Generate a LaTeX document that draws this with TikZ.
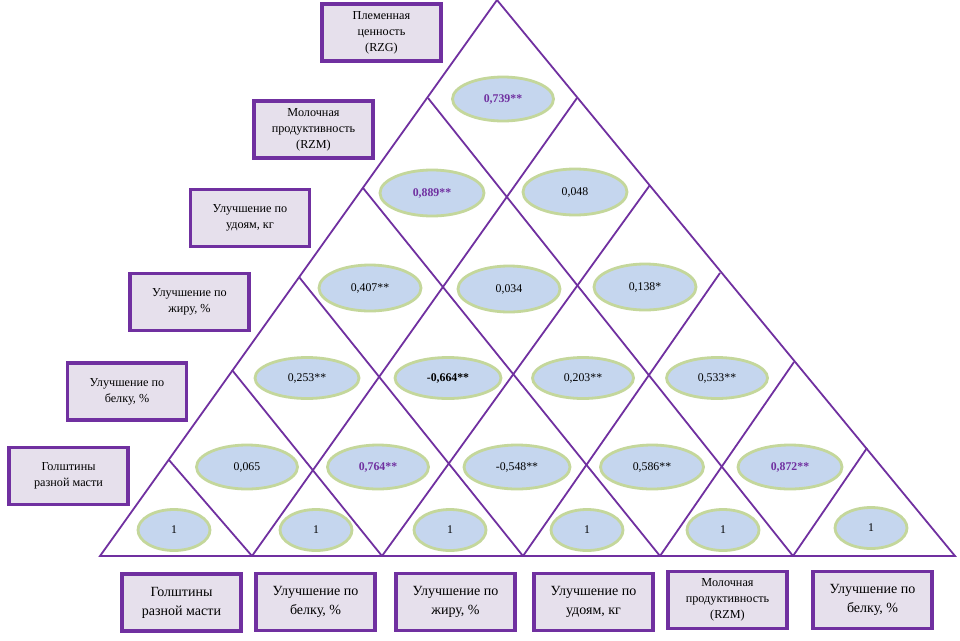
\documentclass[tikz,border=0pt]{standalone}
\usepackage{fontspec}
\setmainfont{Liberation Serif}
\usetikzlibrary{shapes.geometric}
\definecolor{pur}{RGB}{112,48,160}
\definecolor{boxfill}{RGB}{230,224,236}
\definecolor{ellfill}{RGB}{197,214,238}
\definecolor{ellline}{RGB}{196,215,155}
\begin{document}
\begin{tikzpicture}[x=1pt,y=-1pt,
  gridline/.style={draw=pur,line width=1.8pt,line join=miter},
  lbl/.style={draw=pur,line width=3.6pt,fill=boxfill,rectangle,minimum width=119pt,minimum height=57pt,
    align=center,inner sep=0pt,font=\fontsize{12.2}{16}\selectfont},
  lblbig/.style={lbl,font=\fontsize{14}{19}\selectfont},
  val/.style={ellipse,draw=ellline,line width=2.8pt,fill=ellfill,minimum width=101pt,minimum height=44pt,
    inner sep=0pt,font=\fontsize{11.8}{14}\selectfont},
  one/.style={val,minimum width=72pt,minimum height=41pt}]
\useasboundingbox (0,0) rectangle (960,640);
\fill[white] (0,0) rectangle (960,640);
% lattice coordinates
\coordinate (apex) at (497,0);
\coordinate (b0) at (100,556);
\coordinate (b1) at (252,556);
\coordinate (b2) at (382,556);
\coordinate (b3) at (523,556);
\coordinate (b4) at (660,556);
\coordinate (b5) at (793,556);
\coordinate (b6) at (955,556);
\coordinate (l1) at (169,460);
\coordinate (l2) at (232,370);
\coordinate (l3) at (299,277);
\coordinate (l4) at (363,188);
\coordinate (l5) at (428,98);
\coordinate (r1) at (577,98);
\coordinate (r2) at (650,185);
\coordinate (r3) at (720,273);
\coordinate (r4) at (794,362);
\coordinate (r5) at (867,448);
% outline
\draw[gridline] (b0) -- (apex) -- (b6) -- cycle;
% up-right lines
\draw[gridline] (b1) -- (r1);
\draw[gridline] (b2) -- (r2);
\draw[gridline] (b3) -- (r3);
\draw[gridline] (b4) -- (r4);
\draw[gridline] (b5) -- (r5);
% down-right lines
\draw[gridline] (l1) -- (b1);
\draw[gridline] (l2) -- (b2);
\draw[gridline] (l3) -- (b3);
\draw[gridline] (l4) -- (b4);
\draw[gridline] (l5) -- (b5);
% values
\node[val] (e61) at (503,99) {\textcolor{pur}{\bfseries 0,739**}};
\node[val,minimum width=104pt,minimum height=46pt] (e51) at (432,193) {\textcolor{pur}{\bfseries 0,889**}};
\node[val,minimum width=104pt,minimum height=46pt] (e52) at (575,192) {0,048};
\node[val,minimum width=102pt,minimum height=46pt] (e41) at (370,288) {0,407**};
\node[val,minimum width=102pt,minimum height=46pt] (e42) at (509,289) {0,034};
\node[val,minimum width=102pt,minimum height=46pt] (e43) at (645,287) {0,138*};
\node[val,minimum width=104pt,minimum height=41pt] (e31) at (307,378) {0,253**};
\node[val,minimum width=106pt,minimum height=41pt] (e32) at (448,378) {\bfseries -0,664**};
\node[val,minimum width=101pt,minimum height=41pt] (e33) at (583,378) {0,203**};
\node[val,minimum width=101pt,minimum height=41pt] (e34) at (717,378) {0,533**};
\node[val] (e21) at (247,467) {0,065};
\node[val] (e22) at (378,467) {\textcolor{pur}{\bfseries 0,764**}};
\node[val,minimum width=106pt] (e23) at (517,467) {-0,548**};
\node[val,minimum width=103pt] (e24) at (652,467) {0,586**};
\node[val,minimum width=104pt] (e25) at (790,467) {\textcolor{pur}{\bfseries 0,872**}};
\node[one] (e11) at (174,530) {1};
\node[one] (e12) at (316,530) {1};
\node[one] (e13) at (450,530) {1};
\node[one] (e14) at (587,530) {1};
\node[one] (e15) at (723,530) {1};
\node[one] (e16) at (871,528) {1};
% side labels
\node[lbl] (sRZG) at (381.5,32.5) {Племенная\\ценность\\(RZG)};
\node[lbl] (sRZM) at (313.5,129.5) {Молочная\\продуктивность\\(RZM)};
\node[lbl] (sUd) at (250,218) {Улучшение по\\удоям, кг};
\node[lbl] (sZh) at (189.5,302) {Улучшение по\\жиру, \%};
\node[lbl] (sBe) at (127,391.5) {Улучшение по\\белку, \%};
\node[lbl] (sGo) at (68.5,476) {Голштины\\разной масти};
% bottom labels
\node[lblbig] (bGo) at (181.5,602.5) {Голштины\\разной масти};
\node[lblbig] (bBe) at (315.5,602) {Улучшение по\\белку, \%};
\node[lblbig] (bZh) at (455.5,602) {Улучшение по\\жиру, \%};
\node[lblbig] (bUd) at (593.5,602) {Улучшение по\\удоям, кг};
\node[lbl] (bRZM) at (727.5,600) {Молочная\\продуктивность\\(RZM)};
\node[lblbig] (bBe2) at (872.5,600) {Улучшение по\\белку, \%};
\end{tikzpicture}
\end{document}
